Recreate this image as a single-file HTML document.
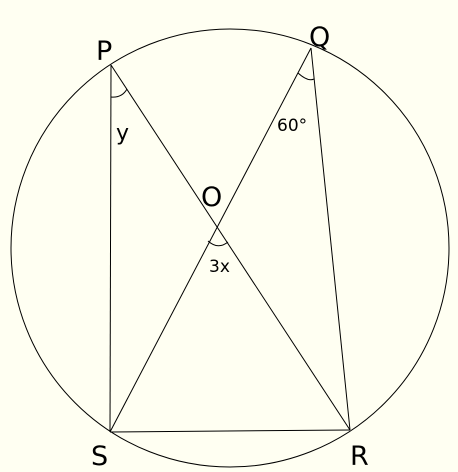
<!DOCTYPE html>
<html><head><meta charset="utf-8"><style>
html,body{margin:0;padding:0;background:#fffff2;}
svg{display:block}
text{font-family:"DejaVu Sans","Liberation Sans",sans-serif;fill:#000}
</style></head><body>
<svg width="458" height="472" viewBox="0 0 458 472">
<rect width="458" height="472" fill="#fffff2"/>
<circle cx="230" cy="248" r="219" fill="none" stroke="#000" stroke-width="1"/>
<g stroke="#000" stroke-width="1" fill="none">
<line x1="111" y1="65" x2="110" y2="432"/>
<line x1="111" y1="65" x2="350" y2="430"/>
<line x1="311" y1="48" x2="110" y2="432"/>
<line x1="311" y1="48" x2="350" y2="430"/>
<line x1="110" y1="432" x2="350" y2="430"/>
<path d="M111,97 Q122,98 127,89"/>
<path d="M298,73 Q308,82 314,79"/>
<path d="M208,241 Q218,250 228,242"/>
</g>
<text x="96" y="60" font-size="27">P</text>
<text x="309" y="46" font-size="27">Q</text>
<text x="201" y="206" font-size="27">O</text>
<text x="91" y="465" font-size="27">S</text>
<text x="350" y="465" font-size="27">R</text>
<text x="116" y="140" font-size="22">y</text>
<text x="277" y="131" font-size="17">60°</text>
<text x="209" y="272" font-size="17">3x</text>
</svg>
</body></html>
